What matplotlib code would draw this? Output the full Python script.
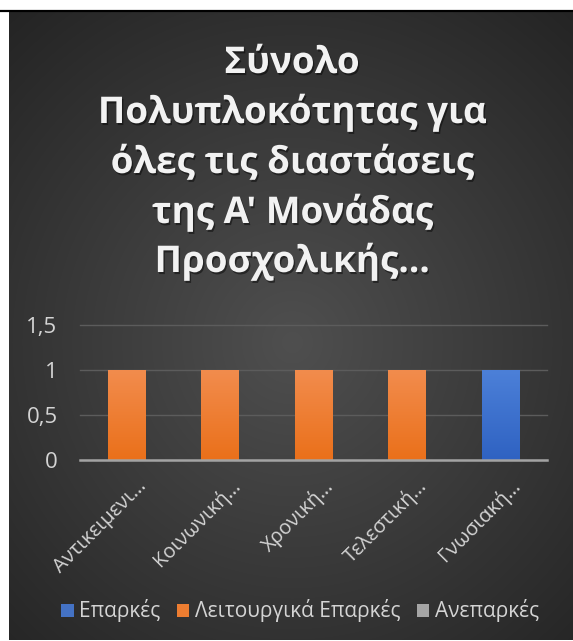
import numpy as np
import matplotlib.pyplot as plt
from matplotlib import patheffects
from matplotlib.colors import LinearSegmentedColormap
from matplotlib.lines import Line2D
from matplotlib.patches import Patch
from matplotlib.transforms import ScaledTranslation

plt.rcParams['font.family'] = ['Open Sans', 'DejaVu Sans']

# chart data
title_lines = ['Σύνολο', 'Πολυπλοκότητας για', 'όλες τις διαστάσεις',
               "της Α' Μονάδας", 'Προσχολικής…']
categories = ['Αντικειμενι…', 'Κοινωνική…', 'Χρονική…', 'Τελεστική…', 'Γνωσιακή…']
series_names = ['Επαρκές', 'Λειτουργικά Επαρκές', 'Ανεπαρκές']
eparkes = [0, 0, 0, 0, 1]
leitourgika = [1, 1, 1, 1, 0]
aneparkes = [0, 0, 0, 0, 0]
y_ticks = [0, 0.5, 1, 1.5]
y_tick_labels = ['0', '0,5', '1', '1,5']

colors = ['#4472C4', '#ED7D31', '#A5A5A5']
# (bottom, top) for the soft vertical gradient on the bars
grads = [('#2F62C2', '#4C80D8'), ('#EA701A', '#F28C4D'), ('#9A9A9A', '#B5B5B5')]

W, H = 573, 641


def px(x, y, w, h):
    # pixel box (from top-left) -> figure fraction
    return [x / W, 1 - (y + h) / H, w / W, h / H]


fig = plt.figure(figsize=(W / 100, H / 100), dpi=100, facecolor='white')

# dark chart background with a radial glow
bg = fig.add_axes(px(9, 12, 564, 628))
yy, xx = np.mgrid[0:628, 0:564]
r = np.sqrt(((xx - 283) / 420.0) ** 2 + ((yy - 330) / 430.0) ** 2)
r = np.clip(r, 0, 1)
shade = 0.31 + (0.145 - 0.31) * r
bg.imshow(np.dstack([shade, shade, shade]), aspect='auto', interpolation='bilinear')
bg.axis('off')

fig.add_artist(Line2D([0, 1], [1 - 11 / H] * 2, color='black', lw=1.6))

# title
for line, yb in zip(title_lines, [73, 123, 173, 223, 272]):
    fig.text(292 / W, 1 - yb / H, line, ha='center', va='baseline',
             fontsize=26.5, fontweight='bold', color='#f2f2f2',
             path_effects=[patheffects.withSimplePatchShadow(offset=(1, -1.5), shadow_rgbFace='black', alpha=0.45)])

ax = fig.add_axes(px(79.75, 325, 467.5, 135))
ax.set_facecolor('none')
x = np.arange(len(categories))
bottom = np.zeros(len(categories))
for vals, name, col, (c0, c1) in zip([eparkes, leitourgika, aneparkes], series_names, colors, grads):
    bars = ax.bar(x, vals, 0.4, bottom=bottom, color=col, label=name, linewidth=0, zorder=2)
    cmap = LinearSegmentedColormap.from_list(name, [c0, c1])
    for b in bars:
        if b.get_height() <= 0:
            continue
        x0, y0 = b.get_x(), b.get_y()
        im = ax.imshow(np.linspace(0, 1, 100).reshape(-1, 1), cmap=cmap, origin='lower',
                       extent=[x0, x0 + b.get_width(), y0, y0 + b.get_height()],
                       aspect='auto', zorder=3)
        im.set_clip_path(b)
    bottom += np.array(vals)

ax.set_xlim(-0.5, len(categories) - 0.5)
ax.set_ylim(0, 1.5)
ax.set_yticks(y_ticks)
ax.set_yticklabels(y_tick_labels)
ax.yaxis.grid(True, color='#5c5c5c', lw=1, clip_on=False)
ax.set_axisbelow(True)
for s in ['top', 'right', 'left']:
    ax.spines[s].set_visible(False)
ax.spines['bottom'].set_color('#a3a3a3')
ax.spines['bottom'].set_linewidth(1.8)
ax.spines['bottom'].set_zorder(4)
ax.tick_params(axis='y', length=0, pad=16, labelsize=16, labelcolor='#d4d4d4')
ax.tick_params(axis='x', length=0)
ax.set_xticks(x)
ax.set_xticklabels([])

shift = ScaledTranslation(0.21, -0.27, fig.dpi_scale_trans)
for xi, lab in zip(x, categories):
    ax.text(xi, 0, lab, transform=ax.get_xaxis_transform() + shift, rotation=45,
            ha='right', va='baseline', rotation_mode='anchor',
            fontsize=14.5, color='#d4d4d4')

handles = [Patch(facecolor=c) for c in colors]
fig.legend(handles, series_names, loc='center', bbox_to_anchor=(300 / W, 1 - 611 / H),
           ncol=3, frameon=False, fontsize=15, labelcolor='#d4d4d4',
           handlelength=0.6, handleheight=0.6, handletextpad=0.25, columnspacing=0.8)

fig.savefig('out.png', dpi=100, facecolor='white')
